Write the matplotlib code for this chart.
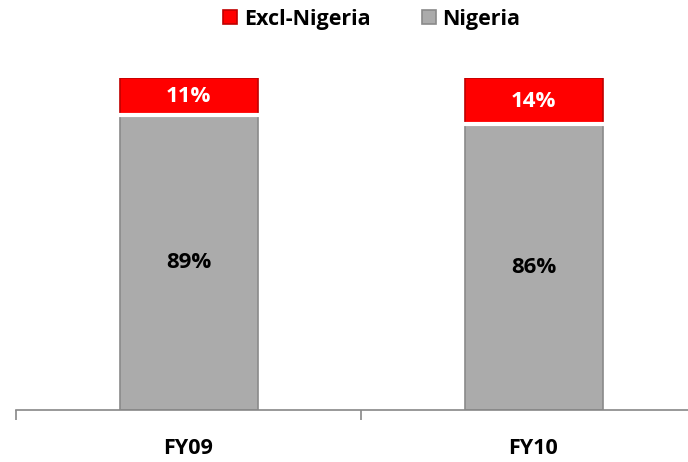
import matplotlib.pyplot as plt
import numpy as np

plt.rcParams['font.family'] = ['Open Sans', 'DejaVu Sans']

# data
categories = ["FY09", "FY10"]
nigeria = [89, 86]
excl_nigeria = [11, 14]

fig = plt.figure(figsize=(6.88, 4.62), dpi=100)
ax = fig.add_axes([16 / 688, 52 / 462, 690 / 688, 332 / 462])

x = np.arange(len(categories))
w = 0.4
b1 = ax.bar(x, nigeria, w, color="#ababab", edgecolor="#8a8a8a", linewidth=1.2,
            label="Nigeria", zorder=2)
b2 = ax.bar(x, excl_nigeria, w, bottom=nigeria, color="#ff0000", edgecolor="#c00000",
            linewidth=1.2, label="Excl-Nigeria", zorder=2)

# white separator between segments
for i in range(len(categories)):
    ax.plot([x[i] - w / 2, x[i] + w / 2], [nigeria[i], nigeria[i]], color="white",
            lw=3, zorder=3)

for i in range(len(categories)):
    ax.text(x[i], nigeria[i] / 2, f"{nigeria[i]}%", ha="center", va="center",
            fontsize=16, fontweight="bold", color="black", zorder=4)
    ax.text(x[i], nigeria[i] + excl_nigeria[i] / 2, f"{excl_nigeria[i]}%", ha="center",
            va="center", fontsize=16, fontweight="bold", color="white", zorder=4)

ax.set_xlim(-0.5, 1.5)
ax.set_ylim(0, 100)
ax.set_yticks([])
ax.set_xticks([-0.5, 0.5, 1.5])
ax.set_xticklabels([])
ax.tick_params(axis="x", length=7, color="#888888", width=1.2)
ax.set_xticks(x, minor=True)
ax.set_xticklabels(categories, minor=True, fontsize=15.5, fontweight="bold")
ax.tick_params(axis="x", which="minor", length=0, pad=20)
for s in ["top", "right", "left"]:
    ax.spines[s].set_visible(False)
ax.spines["bottom"].set_color("#888888")
ax.spines["bottom"].set_linewidth(1.2)

leg = fig.legend(handles=[b2, b1], labels=["Excl-Nigeria", "Nigeria"], loc="center",
                 bbox_to_anchor=(372 / 688, 1 - 19 / 462), ncol=2, frameon=False,
                 handlelength=0.65, handleheight=0.65, handletextpad=0.3, columnspacing=2.4,
                 prop={"size": 15.5, "weight": "bold"})

fig.savefig("out.png", dpi=100)
